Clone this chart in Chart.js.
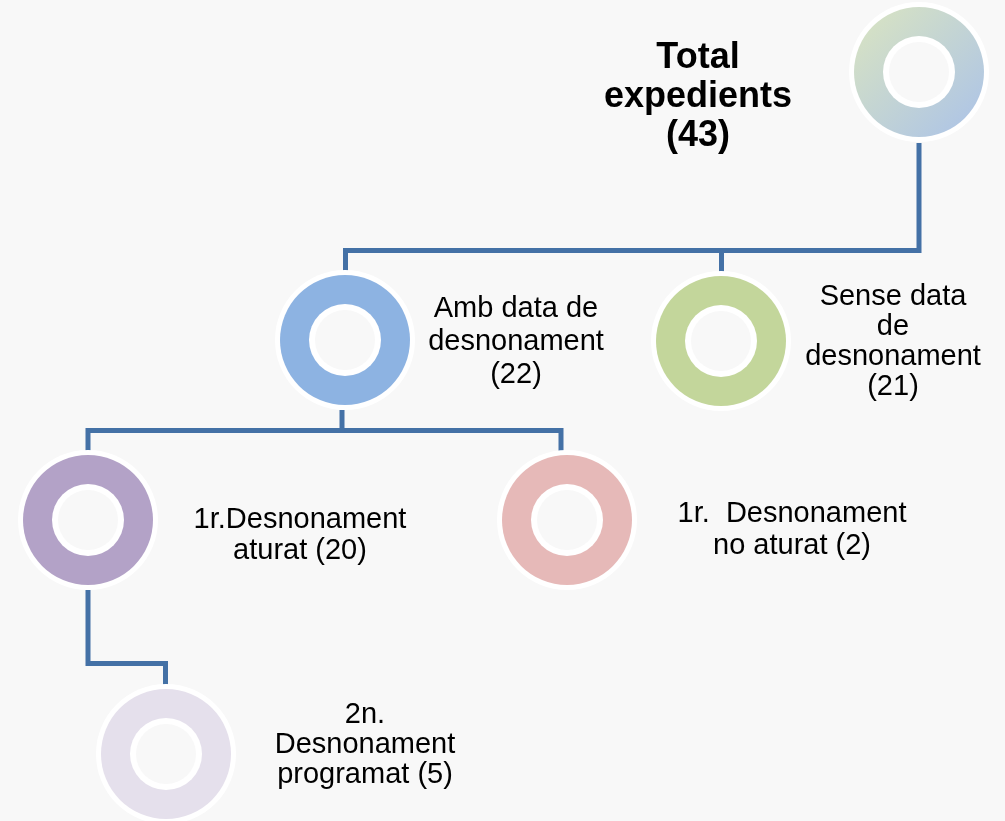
<!DOCTYPE html>
<html>
<head>
<meta charset="utf-8">
<script src="https://cdn.jsdelivr.net/npm/chart.js@4/dist/chart.umd.min.js"></script>
<style>
  html, body { margin: 0; padding: 0; background: #f8f8f8; }
  #caja { width: 1005px; height: 821px; position: relative; }
</style>
</head>
<body>
<div id="caja"><canvas id="arbre"></canvas></div>
<script>
// dades
const nodeNames = ['Total expedients', 'Amb data de desnonament', 'Sense data de desnonament',
  '1r.Desnonament aturat', '1r.  Desnonament no aturat', '2n. Desnonament programat'];
const nodeCounts = [43, 22, 21, 20, 2, 5];
const nodeParents = [-1, 0, 0, 1, 1, 3];

// layout (posicions en pixels del dibuix)
const nodePos = [[919, 72], [345, 340], [721, 341], [88, 520], [567, 520], [166, 754]];
const nodeColors = [null, '#8db3e2', '#c3d69b', '#b3a2c7', '#e6b9b8', '#e5e0ec'];
const labelLines = [
  ['Total', 'expedients', '({n})'],
  ['Amb data de', 'desnonament', '({n})'],
  ['Sense data', 'de', 'desnonament', '({n})'],
  ['1r.Desnonament', 'aturat ({n})'],
  ['1r.  Desnonament', 'no aturat ({n})'],
  ['2n.', 'Desnonament', 'programat ({n})']
];
const labelPos = [
  { x: 698, y: 58, lh: 39, size: 36, bold: true },
  { x: 516, y: 309, lh: 33, size: 29 },
  { x: 893, y: 297, lh: 30, size: 29 },
  { x: 300, y: 520, lh: 31, size: 29 },
  { x: 792, y: 514, lh: 32, size: 29 },
  { x: 365, y: 715, lh: 30, size: 29 }
];
// conectors: recorregut de cada linia
const connectors = [
  [[919, 143], [919, 250.5], [345.5, 250.5], [345.5, 271]],
  [[721.5, 250.5], [721.5, 272]],
  [[342, 410], [342, 430.5], [88, 430.5], [88, 452]],
  [[342, 430.5], [561, 430.5], [561, 452]],
  [[88, 590], [88, 663.5], [165.5, 663.5], [165.5, 686]]
];

const colorLinia = '#4471a6';

let datasets = connectors.map(c => ({
  type: 'line',
  data: c.map(p => ({ x: p[0], y: p[1] })),
  borderColor: colorLinia,
  borderWidth: 5,
  borderJoinStyle: 'miter',
  borderCapStyle: 'butt',
  pointRadius: 0,
  tension: 0,
  fill: false
}));
const idxNodes = datasets.length;
datasets.push({
  type: 'scatter',
  data: nodePos.map(p => ({ x: p[0], y: p[1] })),
  pointRadius: 0,
  pointHoverRadius: 0
});

const anells = {
  id: 'anells',
  afterDatasetsDraw(chart) {
    const ctx = chart.ctx;
    const meta = chart.getDatasetMeta(idxNodes);
    meta.data.forEach((pt, i) => {
      const x = pt.x, y = pt.y;
      ctx.save();
      ctx.beginPath();
      ctx.arc(x, y, 70, 0, Math.PI * 2);
      ctx.fillStyle = '#ffffff';
      ctx.fill();
      let color = nodeColors[i];
      if (!color) {
        color = ctx.createLinearGradient(x - 50, y - 50, x + 50, y + 50);
        color.addColorStop(0, '#d5e1c5');
        color.addColorStop(1, '#b0c6e4');
      }
      ctx.beginPath();
      ctx.arc(x, y, 65, 0, Math.PI * 2);
      ctx.fillStyle = color;
      ctx.fill();
      ctx.beginPath();
      ctx.arc(x, y, 36, 0, Math.PI * 2);
      ctx.fillStyle = '#ffffff';
      ctx.fill();
      ctx.beginPath();
      ctx.arc(x, y, 30, 0, Math.PI * 2);
      ctx.fillStyle = '#f8f8f8';
      ctx.fill();
      ctx.restore();
    });

    // textos
    const sx = chart.scales.x, sy = chart.scales.y;
    labelLines.forEach((lines, i) => {
      const lp = labelPos[i];
      ctx.save();
      ctx.fillStyle = '#000000';
      ctx.textAlign = 'center';
      ctx.textBaseline = 'middle';
      ctx.font = (lp.bold ? 'bold ' : '') + lp.size + 'px "Liberation Sans", Arial, sans-serif';
      lines.forEach((l, k) => {
        const txt = l.replace('{n}', nodeCounts[i]);
        ctx.fillText(txt, sx.getPixelForValue(lp.x), sy.getPixelForValue(lp.y + k * lp.lh));
      });
      ctx.restore();
    });
  }
};

const myChart = new Chart(document.getElementById('arbre').getContext('2d'), {
  type: 'scatter',
  data: { datasets: datasets },
  options: {
    responsive: true,
    maintainAspectRatio: false,
    animation: false,
    layout: { padding: 0 },
    plugins: { legend: { display: false }, tooltip: { enabled: false } },
    scales: {
      x: { type: 'linear', min: 0, max: 1005, display: false },
      y: { type: 'linear', min: 0, max: 821, reverse: true, display: false }
    }
  },
  plugins: [anells]
});
</script>
</body>
</html>
